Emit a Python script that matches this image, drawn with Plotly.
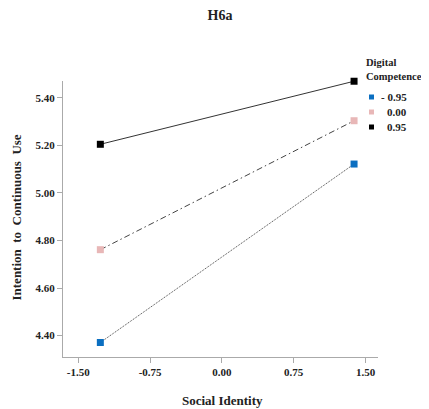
import plotly.graph_objects as go

social_identity = [-1.27, 1.38]
levels = ["- 0.95", "0.00", "0.95"]
series = {
    "- 0.95": [4.371, 5.121],
    "0.00": [4.761, 5.303],
    "0.95": [5.204, 5.469],
}
marker_colors = {"- 0.95": "#0B6FC1", "0.00": "#E8B7B7", "0.95": "#000000"}
dash_styles = {"- 0.95": "1px,1px", "0.00": "6px,3px,1.5px,3px", "0.95": "solid"}
line_colors = {"- 0.95": "#444444", "0.00": "#444444", "0.95": "#333333"}
x_ticks = [-1.5, -0.75, 0.0, 0.75, 1.5]
x_ticklabels = ["-1.50", "-0.75", "0.00", "0.75", "1.50"]
y_ticks = [4.4, 4.6, 4.8, 5.0, 5.2, 5.4]
y_ticklabels = ["4.40", "4.60", "4.80", "5.00", "5.20", "5.40"]

FONT = "Liberation Serif"
TXT = "#222222"

OFF = 8  # page body margin
W, H = 429 - OFF, 409 - OFF
# plot area in page pixels: x 63..378, y 81..357
L, T = 63 - OFF, 81 - OFF
R, B = W - (378 - OFF), H - (357 - OFF)
PW, PH = W - L - R, H - T - B


def px(xp):
    return (xp - OFF - L) / PW


def py(yp):
    return (H - B - (yp - OFF)) / PH


fig = go.Figure()
for lv in levels:
    fig.add_trace(go.Scatter(
        x=social_identity, y=series[lv], mode="lines",
        line=dict(color=line_colors[lv], width=1, dash=dash_styles[lv]),
        showlegend=False, hoverinfo="skip", cliponaxis=False))
for lv in levels:
    fig.add_trace(go.Scatter(
        x=social_identity, y=series[lv], mode="markers", name=lv,
        marker=dict(symbol="square", size=7, color=marker_colors[lv]),
        showlegend=False, cliponaxis=False))

# manual legend
shapes = []
annotations = [
    dict(text="<b>Digital<br>Competence</b>", xref="paper", yref="paper", x=px(364), y=py(69),
         xanchor="left", yanchor="middle", align="left", showarrow=False,
         font=dict(family=FONT, size=10.5, color=TXT)),
]
leg_y = [97, 112, 127]
for lv, yy in zip(levels, leg_y):
    shapes.append(dict(type="rect", xref="paper", yref="paper",
                       x0=px(369), x1=px(374), y0=py(yy + 2.5), y1=py(yy - 2.5),
                       fillcolor=marker_colors[lv], line=dict(width=0)))
    annotations.append(dict(text=f"<b>{lv}</b>", xref="paper", yref="paper", x=px(409), y=py(yy),
                            xanchor="right", yanchor="middle", showarrow=False,
                            font=dict(family=FONT, size=11, color=TXT)))

annotations += [
    dict(text="<b>Social Identity</b>", xref="paper", yref="paper", x=px(222), y=py(400),
         xanchor="center", yanchor="middle", showarrow=False,
         font=dict(family=FONT, size=13, color=TXT)),
    dict(text="<b>Intention  to  Continuous  Use</b>", xref="paper", yref="paper", x=px(15.5), y=py(218),
         xanchor="center", yanchor="middle", textangle=-90, showarrow=False,
         font=dict(family=FONT, size=13, color=TXT)),
]

fig.update_layout(
    width=W, height=H,
    margin=dict(l=L, r=R, t=T, b=B, autoexpand=False),
    paper_bgcolor="white", plot_bgcolor="white",
    font=dict(family=FONT, size=11, color=TXT),
    title=dict(text="<b>H6a</b>", x=(220 - OFF) / W, xanchor="center", xref="container",
               y=1 - (15 - OFF) / H, yref="container", yanchor="middle",
               font=dict(family=FONT, size=14, color=TXT)),
    showlegend=False,
    xaxis=dict(range=[-1.66, 1.63], tickvals=x_ticks, ticktext=[f"<b>{t}</b>" for t in x_ticklabels],
               showgrid=False, zeroline=False, showline=True, linecolor="#AAAAAA", linewidth=1,
               ticks="outside", ticklen=5, tickcolor="#AAAAAA",
               tickfont=dict(family=FONT, size=11, color=TXT)),
    yaxis=dict(range=[4.31, 5.47], tickvals=y_ticks, ticktext=[f"<b>{t}</b>" for t in y_ticklabels],
               showgrid=False, zeroline=False, showline=True, linecolor="#AAAAAA", linewidth=1,
               ticks="outside", ticklen=5, tickcolor="#AAAAAA",
               tickfont=dict(family=FONT, size=11, color=TXT)),
    shapes=shapes,
    annotations=annotations,
)

fig.write_html("out.html")
